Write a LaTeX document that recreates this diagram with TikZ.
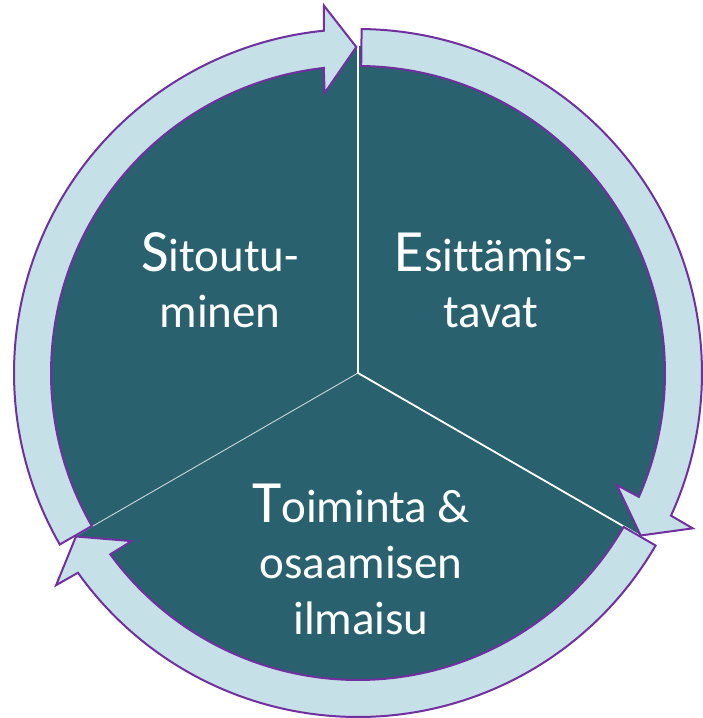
\documentclass[tikz,border=0pt]{standalone}
\usepackage{fontspec}
\setmainfont[Ligatures=NoCommon]{Carlito}
\definecolor{pieteal}{HTML}{2A616E}
\definecolor{ringblue}{HTML}{C5E0E7}
\definecolor{ringline}{HTML}{7030A0}
\tikzset{
  arrowshape/.style={fill=ringblue, draw=ringline, line width=2pt, line join=miter},
  sepline/.style={draw=white},
  lbl/.style={text=white, align=center, inner sep=0pt, font=\fontsize{47}{56}\selectfont}
}
% #1 tail angle, #2 tip angle (clockwise: #2 < #1)
\newcommand\cycarrow[2]{%
  \filldraw[arrowshape] (#1:344) arc[start angle=#1, end angle={#2+5.4}, radius=344pt]
    -- ({#2+5}:369) -- (#2:326) -- ({#2+6.5}:282) -- ({#2+6.1}:307)
    arc[start angle={#2+6.1}, end angle=#1, radius=307pt] -- cycle;}
\newcommand\bigini[1]{{\fontsize{60}{56}\selectfont #1}}
\begin{document}
\begin{tikzpicture}[x=1pt,y=1pt]
\useasboundingbox (0,0) rectangle (702,718);
\begin{scope}[shift={(358,345)}]
  \coordinate (C) at (0,0);
  \fill[pieteal] (C) circle[radius=327pt];
  \coordinate (E1) at (90:327);
  \coordinate (E2) at (-30:327);
  \coordinate (E3) at (210:327);
  \draw[sepline, line width=2.6pt] (C) -- (E1);
  \draw[sepline, line width=1.8pt] (C) -- (E2);
  \draw[sepline, line width=0.9pt, draw opacity=0.75] (C) -- (E3);
  \cycarrow{329.9}{210.1}
  \cycarrow{209.9}{90.3}
  \cycarrow{89.4}{-29.9}
\end{scope}
\node[lbl, anchor=base] (sit) at (220,390) {\bigini{S}itoutu-\\minen};
\node[lbl, anchor=base] (esi) at (491,390) {\bigini{E}sittämis-\\tavat};
\node[lbl, anchor=base] (toi) at (361,83) {\bigini{T}oiminta \&\\osaamisen\\ilmaisu};
\end{tikzpicture}
\end{document}
